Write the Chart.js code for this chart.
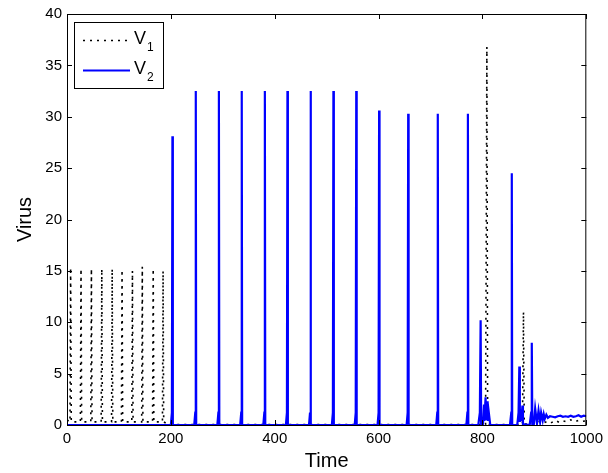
<!DOCTYPE html>
<html>
<head>
<meta charset="utf-8">
<script src="https://cdn.jsdelivr.net/npm/chart.js@4"></script>
<style>
  html, body { margin: 0; padding: 0; background: #fff; }
</style>
</head>
<body>
<canvas id="virus-chart" width="608" height="473"></canvas>
<script>
// Data
const v1Time = [
  0, 5.8, 7, 8.2,
  25.8, 27, 28.2,
  45.8, 47, 48.2,
  65.8, 67, 68.2,
  85.8, 87, 88.2,
  104.8, 106, 107.2,
  124.8, 126, 127.2,
  143.8, 145, 146.2,
  164.8, 166, 167.2,
  183.8, 185, 186.2,
  195, 806, 808.5, 810, 814,
  877, 879, 880.5, 890,
  905, 912, 918, 925, 932, 940, 948, 955, 962, 970, 978, 985, 992, 1000
];
const v1Value = [
  0.5, 0.3, 15.3, 0.3,
  0.3, 15.2, 0.3,
  0.3, 15.2, 0.3,
  0.3, 15.2, 0.3,
  0.3, 15.2, 0.3,
  0.3, 15.1, 0.3,
  0.3, 15.0, 0.3,
  0.3, 15.4, 0.3,
  0.3, 15.2, 0.3,
  0.3, 15.0, 0.3,
  0.05, 0.05, 36.8, 0.1, 0.05,
  0.05, 11.0, 0.1, 0.1,
  0.2, 0.4, 0.2, 0.35, 0.2, 0.45, 0.25, 0.4, 0.3, 0.5, 0.3, 0.45, 0.35, 0.4
];

const v2Time = [
  0, 200, 202, 203, 203.8,
  245, 247, 248, 248.8,
  289.5, 291.5, 292.5, 293.3,
  333.5, 335.5, 336.5, 337.3,
  378, 380, 381, 381.8,
  421.5, 423.5, 424.5, 425.3,
  466, 468, 469, 469.8,
  510, 512, 513, 513.8,
  554, 556, 557, 557.8,
  598, 600, 601, 601.8,
  654, 656, 657, 657.8,
  711, 713, 714, 714.8,
  769, 771, 772, 772.8,
  792, 795, 796.5, 797.5,
  801, 803, 804, 806, 807, 809, 810, 812, 815,
  853, 855.5, 856.5, 857.3,
  867, 869.5, 871, 872, 874, 875, 877, 878,
  891, 893.8, 895, 896, 899, 901.5, 905, 908, 911, 913, 916, 918, 920, 923, 926,
  930, 935, 940, 945, 950, 955, 960, 965, 970, 975, 980, 985, 990, 995, 1000
];
const v2Value = [
  0, 0, 1.2, 28.1, 0,
  0, 1.2, 32.5, 0,
  0, 1.2, 32.5, 0,
  0, 1.2, 32.5, 0,
  0, 1.2, 32.5, 0,
  0, 1.2, 32.5, 0,
  0, 1.2, 32.5, 0,
  0, 1.2, 32.5, 0,
  0, 1.2, 32.5, 0,
  0, 1.2, 30.6, 0,
  0, 1.2, 30.3, 0,
  0, 1.2, 30.3, 0,
  0, 1.2, 30.3, 0,
  0, 1.2, 10.2, 0,
  0.1, 2.0, 0.4, 2.7, 0.5, 2.3, 0.4, 1.3, 0,
  0, 1.2, 24.5, 0,
  0, 1.2, 5.7, 0.3, 1.5, 0.4, 1.9, 0.1,
  0, 1.2, 8.0, 0.1, 0.1, 1.6, 0.15, 1.4, 0.3, 1.2, 0.45, 1.05, 0.6, 1.0, 0.7,
  0.85, 0.8, 0.75, 0.85, 0.9, 0.8, 0.85, 0.8, 0.9, 0.8, 0.85, 0.95, 0.8, 0.9, 0.85
];

const xTicks = [0, 200, 400, 600, 800, 1000];
const yTicks = [0, 5, 10, 15, 20, 25, 30, 35, 40];
const seriesNames = ['V', 'V'];
const seriesSubs = ['1', '2'];

const FONT = "'Liberation Sans', Arial, Helvetica, sans-serif";

function toPoints(xs, ys) {
  return xs.map((x, i) => ({ x: x, y: ys[i] }));
}

// MATLAB-like box, inward ticks and legend
const matlabAxes = {
  id: 'matlabAxes',
  afterDatasetsDraw(chart) {
    const { ctx, chartArea: a, scales: { x, y } } = chart;
    const tickLen = 5;
    ctx.save();
    ctx.strokeStyle = '#000';
    ctx.lineWidth = 1;
    ctx.setLineDash([]);
    ctx.beginPath();
    xTicks.forEach(v => {
      const px = Math.round(x.getPixelForValue(v)) + 0.5;
      ctx.moveTo(px, a.bottom); ctx.lineTo(px, a.bottom - tickLen);
      ctx.moveTo(px, a.top); ctx.lineTo(px, a.top + tickLen);
    });
    yTicks.forEach(v => {
      const py = Math.round(y.getPixelForValue(v)) + 0.5;
      ctx.moveTo(a.left, py); ctx.lineTo(a.left + tickLen, py);
      ctx.moveTo(a.right, py); ctx.lineTo(a.right - tickLen, py);
    });
    ctx.stroke();
    ctx.strokeRect(a.left + 0.5, a.top + 0.5, a.right - a.left - 1, a.bottom - a.top);

    // legend
    const bx = a.left + 7, by = a.top + 8, bw = 89, bh = 66;
    ctx.fillStyle = '#fff';
    ctx.fillRect(bx, by, bw, bh);
    ctx.strokeRect(bx + 0.5, by + 0.5, bw, bh);
    chart.data.datasets.forEach((ds, i) => {
      const rowY = by + 18.5 + i * 30;
      ctx.save();
      ctx.strokeStyle = ds.borderColor;
      ctx.lineWidth = ds.borderWidth;
      ctx.setLineDash(ds.borderDash || []);
      ctx.beginPath();
      ctx.moveTo(bx + 9, rowY);
      ctx.lineTo(bx + 56, rowY);
      ctx.stroke();
      ctx.restore();
      ctx.fillStyle = '#000';
      ctx.textBaseline = 'alphabetic';
      ctx.textAlign = 'left';
      ctx.font = '18px ' + FONT;
      ctx.fillText(seriesNames[i], bx + 60, rowY + 3.5);
      ctx.font = '12px ' + FONT;
      ctx.fillText(seriesSubs[i], bx + 73, rowY + 10.5);
    });
    ctx.restore();
  }
};

const ctx = document.getElementById('virus-chart').getContext('2d');
const virusChart = new Chart(ctx, {
  type: 'line',
  data: {
    datasets: [{
      label: 'V1',
      data: toPoints(v1Time, v1Value),
      borderColor: '#000000',
      borderWidth: 1.6,
      borderDash: [2, 5],
      pointRadius: 0,
      tension: 0,
      fill: false,
      order: 1
    }, {
      label: 'V2',
      data: toPoints(v2Time, v2Value),
      borderColor: '#0000ff',
      borderWidth: 2.2,
      pointRadius: 0,
      tension: 0,
      fill: false,
      order: 0
    }]
  },
  options: {
    responsive: false,
    devicePixelRatio: 1,
    animation: false,
    events: [],
    layout: { padding: { left: 0, top: 14, right: 20, bottom: 0 } },
    plugins: {
      legend: { display: false },
      tooltip: { enabled: false }
    },
    scales: {
      x: {
        type: 'linear',
        min: 0,
        max: 1000,
        grid: { display: false, drawTicks: false },
        border: { display: false },
        ticks: {
          stepSize: 200,
          maxRotation: 0,
          padding: 5,
          color: '#000',
          font: { family: FONT, size: 15 },
          callback: v => String(v)
        },
        title: {
          display: true,
          text: 'Time',
          color: '#000',
          font: { family: FONT, size: 20 },
          padding: { top: 0, bottom: 0 }
        },
        afterFit: scale => { scale.height = 48; }
      },
      y: {
        type: 'linear',
        min: 0,
        max: 40,
        grid: { display: false, drawTicks: false },
        border: { display: false },
        ticks: {
          stepSize: 5,
          padding: 5,
          color: '#000',
          font: { family: FONT, size: 15 },
          callback: v => String(v)
        },
        title: {
          display: true,
          text: 'Virus',
          color: '#000',
          font: { family: FONT, size: 20 },
          padding: { top: 13, bottom: 0 }
        },
        afterFit: scale => { scale.width = 67; }
      }
    }
  },
  plugins: [matlabAxes]
});
</script>
</body>
</html>
